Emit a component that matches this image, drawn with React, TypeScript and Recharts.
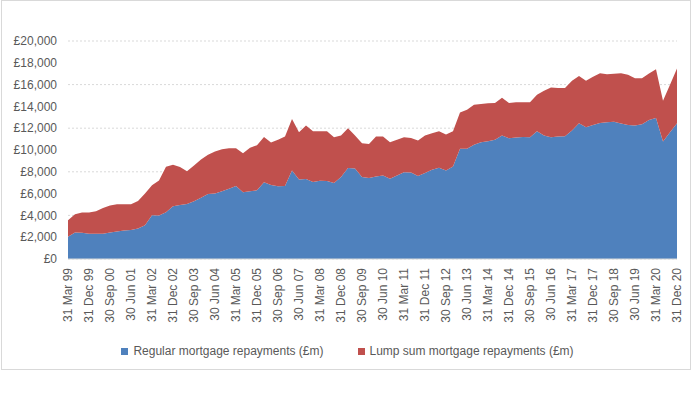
import React from "react";
import { AreaChart, Area, XAxis, YAxis, CartesianGrid, Legend } from "recharts";

const quarterEnds = ["31 Mar", "30 Jun", "30 Sep", "31 Dec"];
const years = ["99", "00", "01", "02", "03", "04", "05", "06", "07", "08", "09", "10", "11", "12", "13", "14", "15", "16", "17", "18", "19", "20"];
const categories = years.flatMap((y) => quarterEnds.map((q) => `${q} ${y}`));

const regular = [
  2050, 2440, 2400, 2310, 2310, 2310, 2440, 2530, 2620, 2650,
  2800, 3100, 4020, 4000, 4300, 4840, 4960, 5050, 5300, 5630,
  5970, 6000, 6210, 6450, 6700, 6120, 6210, 6300, 7050, 6800,
  6670, 6700, 8130, 7300, 7330, 7060, 7180, 7150, 6970, 7520,
  8340, 8310, 7520, 7430, 7580, 7670, 7370, 7670, 7970, 7940,
  7610, 7880, 8190, 8370, 8130, 8490, 10110, 10110, 10480, 10710,
  10800, 10930, 11320, 11080, 11140, 11200, 11170, 11720, 11320, 11170,
  11230, 11260, 11780, 12450, 12080, 12300, 12480, 12540, 12600, 12420,
  12300, 12240, 12360, 12760, 12940, 10780, 11630, 12450,
];

const lumpSum = [
  1510, 1670, 1860, 1950, 2070, 2380, 2460, 2490, 2400, 2370,
  2530, 2900, 2740, 3210, 4160, 3800, 3470, 2990, 3280, 3500,
  3590, 3860, 3860, 3720, 3470, 3590, 3990, 4140, 4150, 3880,
  4260, 4530, 4720, 4330, 4910, 4660, 4540, 4570, 4200, 3800,
  3660, 3010, 3100, 3130, 3650, 3560, 3340, 3260, 3200, 3160,
  3260, 3440, 3340, 3350, 3290, 3230, 3340, 3590, 3670, 3510,
  3480, 3380, 3470, 3230, 3230, 3170, 3200, 3350, 4110, 4570,
  4450, 4420, 4570, 4350, 4270, 4410, 4570, 4420, 4390, 4630,
  4600, 4350, 4230, 4260, 4470, 3740, 4350, 5020,
];

const yTicks = [0, 2000, 4000, 6000, 8000, 10000, 12000, 14000, 16000, 18000, 20000];

const seriesNames = ["Regular mortgage repayments (£m)", "Lump sum mortgage repayments (£m)"];
const seriesColors = ["#4F81BD", "#C0504D"];

const data = categories.map((c, i) => ({ date: c, regular: regular[i], lump: lumpSum[i] }));

const FONT = "'Liberation Sans', Arial, sans-serif";
const TEXT = "#595959";

const XTick = (props: any) => {
  const { x, payload } = props;
  return (
    <text
      x={x}
      y={268}
      transform={`rotate(-90, ${x}, 268)`}
      textAnchor="end"
      dy="0.35em"
      fontSize={12}
      fontFamily={FONT}
      fill={TEXT}
    >
      {payload.value}
    </text>
  );
};

const LegendContent = () => (
  <div style={{ display: "flex", justifyContent: "center", alignItems: "center", fontFamily: FONT, fontSize: 12, color: TEXT }}>
    {seriesNames.map((n, i) => (
      <div key={n} style={{ display: "flex", alignItems: "center", marginRight: i === 0 ? 34 : 0 }}>
        <span style={{ display: "inline-block", width: 7, height: 7, background: seriesColors[i], marginRight: 5 }} />
        <span>{n}</span>
      </div>
    ))}
  </div>
);

export default function App() {
  return (
    <div style={{ position: "absolute", left: 0, top: 0, width: 695, height: 395, background: "#fff" }}>
      <div style={{ position: "absolute", left: 1, top: 0, width: 690, height: 370, border: "1px solid #D9D9D9", boxSizing: "border-box" }} />
      <div style={{ position: "absolute", left: 0, top: 0 }}>
        <AreaChart width={695} height={395} data={data} margin={{ top: 41, right: 18, left: 0, bottom: 66 }}>
          <CartesianGrid vertical={false} stroke="#D9D9D9" strokeDasharray="2 2" />
          <XAxis
            dataKey="date"
            interval={2}
            height={70}
            tick={<XTick />}
            tickLine={false}
            axisLine={{ stroke: "#D9D9D9" }}
          />
          <YAxis
            width={68}
            domain={[0, 20000]}
            ticks={yTicks}
            tickFormatter={(v: number) => "£" + v.toLocaleString("en-GB")}
            tick={{ fontSize: 12, fontFamily: FONT, fill: TEXT }}
            tickLine={false}
            axisLine={false}
            tickMargin={5}
          />
          <Area type="linear" dataKey="regular" name={seriesNames[0]} stackId="a" fill={seriesColors[0]} stroke="none" fillOpacity={1} isAnimationActive={false} />
          <Area type="linear" dataKey="lump" name={seriesNames[1]} stackId="a" fill={seriesColors[1]} stroke="none" fillOpacity={1} isAnimationActive={false} />
          <Legend verticalAlign="middle" align="center" content={<LegendContent />} wrapperStyle={{ top: 344, left: 0, width: 695 }} />
        </AreaChart>
      </div>
    </div>
  );
}
